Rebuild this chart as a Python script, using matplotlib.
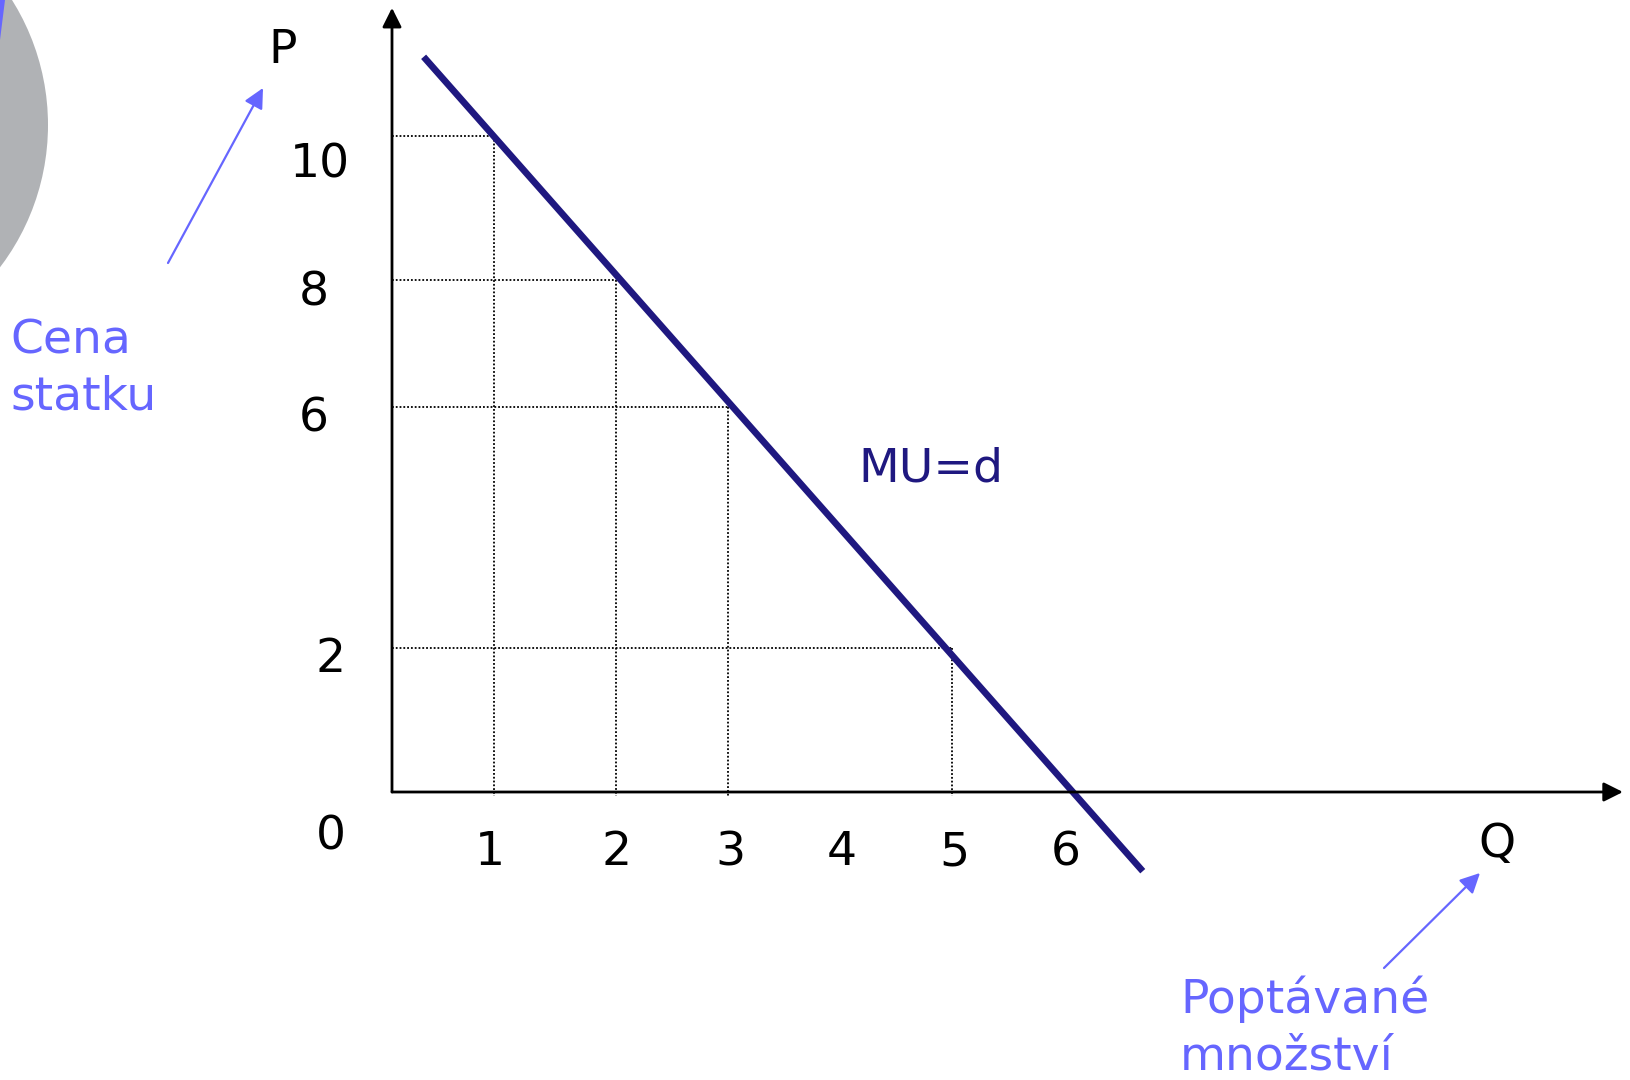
import numpy as np
import matplotlib
matplotlib.use("Agg")
import matplotlib.pyplot as plt
from matplotlib.patches import Ellipse, Polygon

# data
q_points = [1, 2, 3, 5]
p_points = [10, 8, 6, 2]
x_ticks = [1, 2, 3, 4, 5, 6]
y_ticks = [10, 8, 6, 2, 0]
mu_q = [0.31, 6.61]
mu_p = [11.1, -1.1]
q_axis_end = 10.87
p_axis_end = 11.78

W, H = 1630, 1080

navy = "#1f1880"
blue = "#6666ff"
gray = "#b0b2b5"

# the hand drawn slide has slightly uneven spacing on both axes,
# so the axes use a piecewise linear scale (pixels per unit)
qx_knots = [-10, 0, 1, 2, 3, 4, 5, 6, 20]
qx_px = [392 - 1127, 392, 494, 616, 728, 840, 952, 1074, 1074 + 1578]
py_knots = [-10, 0, 2, 6, 8, 10, 20]
py_px = [288 - 720, 288, 432, 673, 800, 944, 1664]


def fwd_x(v):
    return np.interp(v, qx_knots, qx_px)


def inv_x(v):
    return np.interp(v, qx_px, qx_knots)


def fwd_y(v):
    return np.interp(v, py_knots, py_px)


def inv_y(v):
    return np.interp(v, py_px, py_knots)


def fp(x, y):
    """slide pixel (from top left) -> figure pixels"""
    return x, H - y


fig = plt.figure(figsize=(W / 100, H / 100), dpi=100)
ax = fig.add_axes([0, 0, 1, 1])
ax.set_xscale("function", functions=(fwd_x, inv_x))
ax.set_yscale("function", functions=(fwd_y, inv_y))
ax.set_xlim(inv_x(0), inv_x(W))
ax.set_ylim(inv_y(0), inv_y(H))
ax.axis("off")

# decoration in the top left corner
r = 235
fig.patches.append(Ellipse((-187 / W, 1 - 125 / H), 2 * r / W, 2 * r / H,
                           transform=fig.transFigure, color=gray, lw=0))
fig.patches.append(Polygon([(0, 1), (5 / W, 1), (0, 1 - 40 / H)], closed=True,
                           transform=fig.transFigure, color=blue, lw=0))

# dotted guide lines
dots = dict(color="black", lw=1.3, linestyle=(0, (1, 1.1)))
for q, p in zip(q_points, p_points):
    ax.plot([0, q], [p, p], **dots)
    ax.plot([q, q], [p, -0.05], **dots)

# axes with arrows
arrow = dict(arrowstyle="-|>,head_length=0.4,head_width=0.2", mutation_scale=29,
             lw=2, color="black", shrinkA=0, shrinkB=0)
ax.annotate("", xy=(0, p_axis_end), xytext=(0, 0), arrowprops=arrow)
ax.annotate("", xy=(q_axis_end, 0), xytext=(0, 0), arrowprops=arrow)

# MU = d line
ax.plot(mu_q, mu_p, color=navy, lw=4.8, solid_capstyle="butt")

fs = 34
# tick labels
x_dx = [-4, 1, 2, 2, 2, -8]
for q, dx in zip(x_ticks, x_dx):
    ax.annotate(str(q), (q, 0), xytext=(dx, -73), textcoords="offset pixels",
                ha="center", va="baseline", fontsize=fs)
y_dx = [-72, -78, -78, -61, -61]
y_dy = [-42, -25, -25, -24, -57]
for p, dx, dy in zip(y_ticks, y_dx, y_dy):
    ax.annotate(str(p), (0, p), xytext=(dx, dy), textcoords="offset pixels",
                ha="center", va="baseline", fontsize=fs)

ax.annotate("P", fp(283, 63), xycoords="figure pixels", ha="center", va="baseline", fontsize=fs)
ax.annotate("Q", fp(1497, 857), xycoords="figure pixels", ha="center", va="baseline", fontsize=fs)
ax.annotate("MU=d", fp(931, 482), xycoords="figure pixels", ha="center", va="baseline",
            fontsize=fs, color=navy)

# blue notes with arrows
notes = [("Cena", 10, 353), ("statku", 10, 410),
         ("Poptávané", 1180, 1013), ("množství", 1180, 1069)]
for label, x, y in notes:
    ax.annotate(label, fp(x, y), xycoords="figure pixels", ha="left", va="baseline",
                fontsize=fs, color=blue)

note_arrow = dict(arrowstyle="-|>,head_length=0.4,head_width=0.2", mutation_scale=30,
                  lw=1.6, color=blue, shrinkA=0, shrinkB=0)
ax.annotate("", xy=fp(263, 88), xytext=fp(168, 263), xycoords="figure pixels",
            textcoords="figure pixels", arrowprops=note_arrow)
ax.annotate("", xy=fp(1480, 873), xytext=fp(1384, 968), xycoords="figure pixels",
            textcoords="figure pixels", arrowprops=note_arrow)

fig.savefig("out.png", dpi=100)
